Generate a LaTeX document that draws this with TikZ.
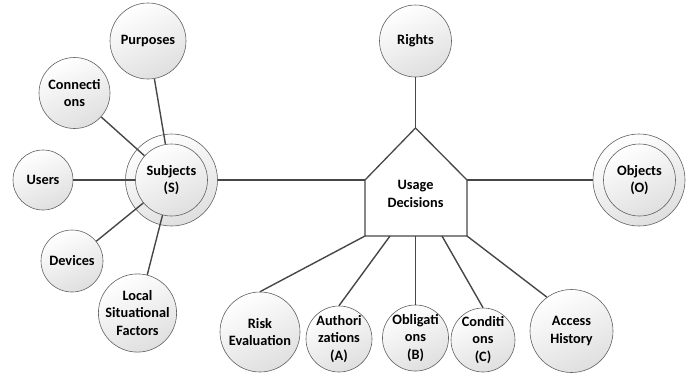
\documentclass[tikz,border=0pt]{standalone}
\usepackage{fontspec}
\setmainfont[BoldFont={Carlito Bold}]{Carlito}
\begin{document}
\begin{tikzpicture}[x=1pt,y=-1pt,
  txt/.style={font=\bfseries\fontsize{14.3}{17.5}\selectfont},
  bub/.style={circle, draw=gray!75!black, line width=0.6pt, top color=white, bottom color=gray!25, shading angle=25,
    inner sep=0pt, minimum size=#1, align=center, txt},
  conn/.style={draw=black!72, line width=1.4pt},
  house/.style={draw=black!72, line width=1.3pt, fill=white}]
\useasboundingbox (0,0) rectangle (699,375);
% Usage decisions pentagon
\coordinate (apex) at (415.5,128);
\coordinate (udnw) at (365,180);
\coordinate (udne) at (467,180);
\coordinate (udse) at (467,236);
\coordinate (udsw) at (365,236);
\coordinate (ua) at (390,236);
\coordinate (uo) at (415.5,236);
\coordinate (uc) at (442,236);
\draw[house] (udnw) -- (apex) -- (udne) -- (udse) -- (udsw) -- cycle;
\node[align=center, txt] (ud) at (415.5,194) {Usage\\Decisions};
% subjects cluster
\node[bub=92pt] (subjout) at (171.5,180) {};
\node[bub=72pt] (subjin) at (171.5,180) {Subjects\\(S)};
\node[bub=76pt] (purposes) at (148,41) {Purposes};
\node[bub=71pt] (connections) at (74.5,93) {Connecti\\ons};
\node[bub=60pt] (users) at (43,180) {Users};
\node[bub=62pt] (devices) at (72,261) {Devices};
\node[bub=72pt] (local) at (137.5,313) {Local\\Situational\\Factors};
% others
\node[bub=72pt] (rights) at (415.5,41) {Rights};
\node[bub=92pt] (objout) at (639,180) {};
\node[bub=72pt] (objin) at (639.5,180) {Objects\\(O)};
\node[bub=80pt] (risk) at (260,332) {Risk\\Evaluation};
\node[bub=66pt] (auth) at (339,339) {Authori\\zations\\(A)};
\node[bub=64pt] (obl) at (415.5,338) {Obligati\\ons\\(B)};
\node[bub=64pt] (cond) at (483,340) {Conditi\\ons\\(C)};
\node[bub=83pt] (access) at (571.5,331) {Access\\History};
% connectors
\draw[conn] (purposes) -- (subjin);
\draw[conn] (connections) -- (subjin);
\draw[conn] (users) -- (subjin);
\draw[conn] (devices) -- (subjin);
\draw[conn] (local) -- (subjin);
\draw[conn] (subjout.east) -- (udnw);
\draw[conn] (udne) -- (objout.west);
\draw[conn] (rights) -- (apex);
\draw[conn] (udsw) -- (risk.north);
\draw[conn] (ua) -- (auth.north);
\draw[conn] (uo) -- (obl.north);
\draw[conn] (uc) -- (cond.north);
\draw[conn] (udse) -- (access.126);
\end{tikzpicture}
\end{document}
